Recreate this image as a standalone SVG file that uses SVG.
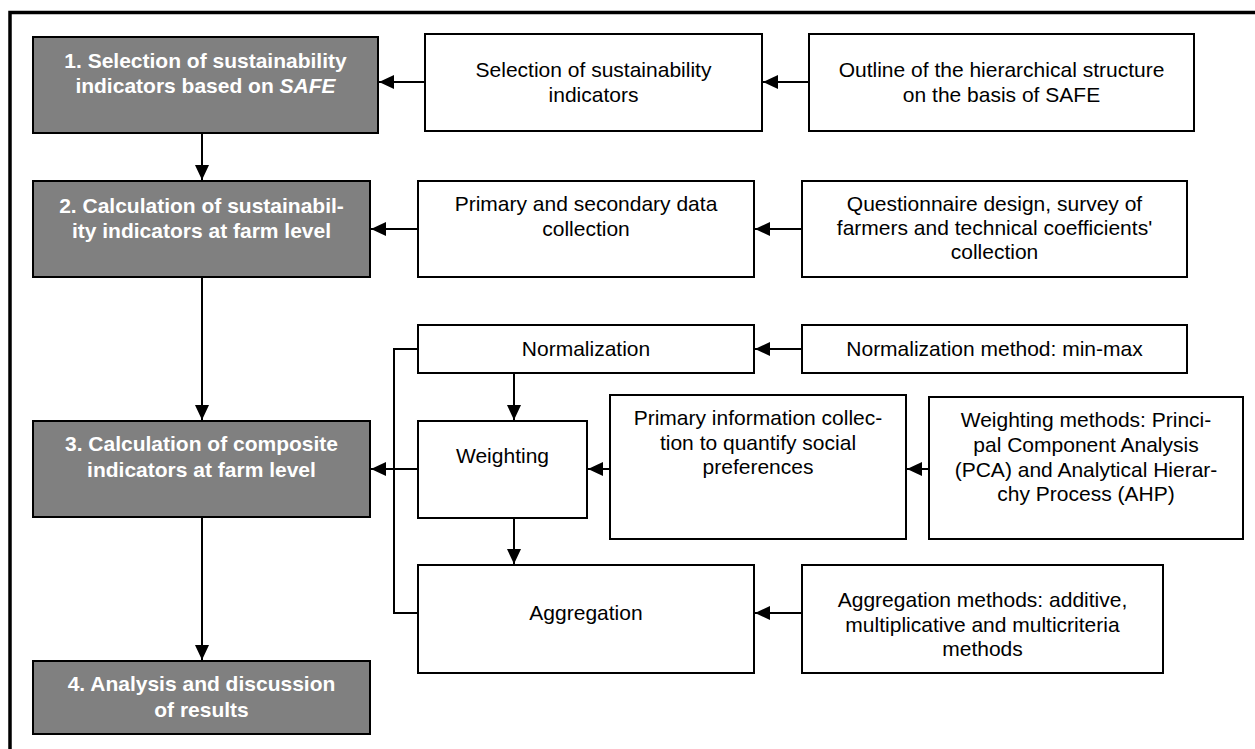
<svg xmlns="http://www.w3.org/2000/svg" width="1255" height="749" viewBox="0 0 1255 749">
<style>
.box{fill:#fff;stroke:#000;stroke-width:2}
.gbox{fill:#808080;stroke:#000;stroke-width:2}
.t{font-family:"Liberation Sans",Arial,sans-serif;font-size:21px;fill:#000;text-anchor:middle}
.b{font-family:"Liberation Sans",Arial,sans-serif;font-size:21px;font-weight:bold;fill:#fff;text-anchor:middle}
.c{fill:none;stroke:#000;stroke-width:2}
</style>
<defs>
<marker id="ah" markerUnits="userSpaceOnUse" markerWidth="16" markerHeight="14" refX="15" refY="7" orient="auto">
<path d="M0,0 L15,7 L0,14 z" fill="#000"/>
</marker>
</defs>
<rect width="1255" height="749" fill="#fff"/>
<path d="M10,749 L10,12.5 L1255,12.5" fill="none" stroke="#000" stroke-width="3.5"/>

<g id="connectors">
<line class="c" x1="202" y1="133" x2="202" y2="180" marker-end="url(#ah)"/>
<line class="c" x1="202" y1="277" x2="202" y2="420" marker-end="url(#ah)"/>
<line class="c" x1="202" y1="517" x2="202" y2="660" marker-end="url(#ah)"/>
<line class="c" x1="425" y1="82" x2="379" y2="82" marker-end="url(#ah)"/>
<line class="c" x1="809" y1="82" x2="763" y2="82" marker-end="url(#ah)"/>
<line class="c" x1="418" y1="229" x2="371" y2="229" marker-end="url(#ah)"/>
<line class="c" x1="802" y1="229" x2="755" y2="229" marker-end="url(#ah)"/>
<line class="c" x1="802" y1="349" x2="755" y2="349" marker-end="url(#ah)"/>
<line class="c" x1="514" y1="373" x2="514" y2="420" marker-end="url(#ah)"/>
<line class="c" x1="610" y1="469" x2="588" y2="469" marker-end="url(#ah)"/>
<line class="c" x1="929" y1="469" x2="907" y2="469" marker-end="url(#ah)"/>
<line class="c" x1="514" y1="518" x2="514" y2="564" marker-end="url(#ah)"/>
<line class="c" x1="802" y1="613" x2="755" y2="613" marker-end="url(#ah)"/>
<path class="c" d="M418,349 L394,349 L394,613 L418,613"/>
<line class="c" x1="418" y1="469" x2="371" y2="469" marker-end="url(#ah)"/>
</g>

<g id="step1">
<rect class="gbox" x="33" y="37" width="345" height="96"/>
<text class="b" x="205.5" y="67.5">1. Selection of sustainability</text>
<text class="b" x="205.5" y="92.5">indicators based on <tspan font-style="italic">SAFE</tspan></text>
</g>
<g id="step2">
<rect class="gbox" x="33" y="181" width="337" height="96"/>
<text class="b" x="201.5" y="213">2. Calculation of sustainabil-</text>
<text class="b" x="201.5" y="238">ity indicators at farm level</text>
</g>
<g id="step3">
<rect class="gbox" x="33" y="421" width="337" height="96"/>
<text class="b" x="201.5" y="451">3. Calculation of composite</text>
<text class="b" x="201.5" y="477">indicators at farm level</text>
</g>
<g id="step4">
<rect class="gbox" x="33" y="661" width="337" height="73"/>
<text class="b" x="201.5" y="691">4. Analysis and discussion</text>
<text class="b" x="201.5" y="717">of results</text>
</g>

<g id="selection">
<rect class="box" x="425" y="34" width="337" height="97"/>
<text class="t" x="593.5" y="77">Selection of sustainability</text>
<text class="t" x="593.5" y="101.5">indicators</text>
</g>
<g id="outline">
<rect class="box" x="809" y="34" width="385" height="97"/>
<text class="t" x="1001.5" y="77">Outline of the hierarchical structure</text>
<text class="t" x="1001.5" y="101.5">on the basis of SAFE</text>
</g>
<g id="datacollection">
<rect class="box" x="418" y="181" width="336" height="96"/>
<text class="t" x="586" y="211">Primary and secondary data</text>
<text class="t" x="586" y="236">collection</text>
</g>
<g id="questionnaire">
<rect class="box" x="802" y="181" width="385" height="96"/>
<text class="t" x="994.5" y="211">Questionnaire design, survey of</text>
<text class="t" x="994.5" y="235">farmers and technical coefficients'</text>
<text class="t" x="994.5" y="259">collection</text>
</g>
<g id="normalization">
<rect class="box" x="418" y="325" width="336" height="48"/>
<text class="t" x="586" y="356">Normalization</text>
</g>
<g id="normmethod">
<rect class="box" x="802" y="325" width="385" height="48"/>
<text class="t" x="994.5" y="356">Normalization method: min-max</text>
</g>
<g id="weighting">
<rect class="box" x="418" y="421" width="169" height="97"/>
<text class="t" x="502.5" y="463">Weighting</text>
</g>
<g id="primaryinfo">
<rect class="box" x="610" y="395" width="296" height="144"/>
<text class="t" x="758" y="425">Primary information collec-</text>
<text class="t" x="758" y="450">tion to quantify social</text>
<text class="t" x="758" y="474">preferences</text>
</g>
<g id="weightmethods">
<rect class="box" x="929" y="397" width="314" height="142"/>
<text class="t" x="1086" y="427">Weighting methods: Princi-</text>
<text class="t" x="1086" y="452">pal Component Analysis</text>
<text class="t" x="1086" y="477">(PCA) and Analytical Hierar-</text>
<text class="t" x="1086" y="501">chy Process (AHP)</text>
</g>
<g id="aggregation">
<rect class="box" x="418" y="565" width="336" height="108"/>
<text class="t" x="586" y="620">Aggregation</text>
</g>
<g id="aggmethods">
<rect class="box" x="802" y="565" width="361" height="108"/>
<text class="t" x="982.5" y="607">Aggregation methods: additive,</text>
<text class="t" x="982.5" y="632">multiplicative and multicriteria</text>
<text class="t" x="982.5" y="656">methods</text>
</g>
</svg>
